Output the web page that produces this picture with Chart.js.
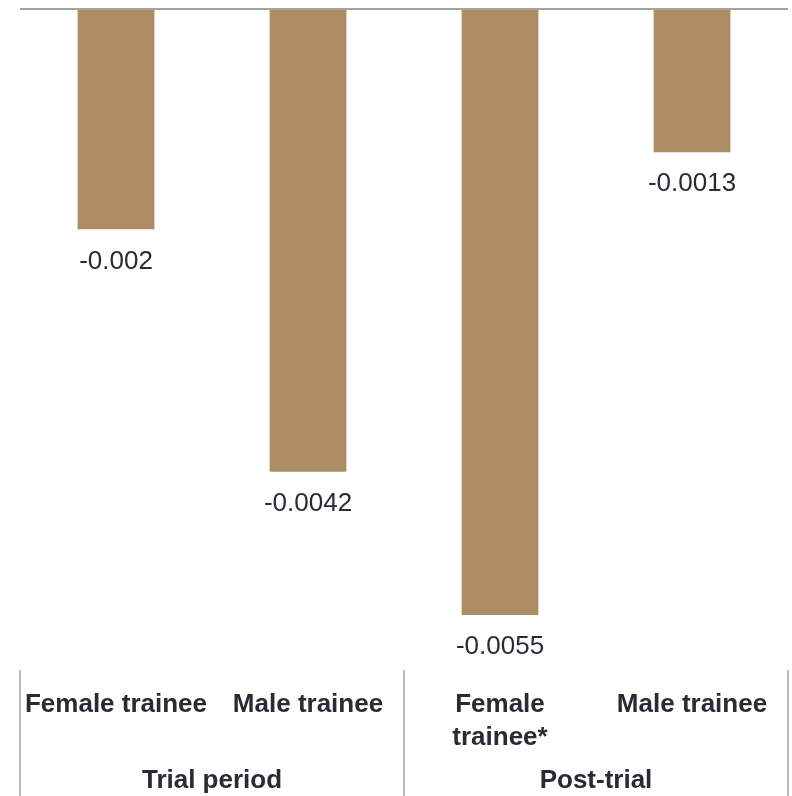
<!DOCTYPE html>
<html>
<head>
<meta charset="utf-8">
<script src="https://cdn.jsdelivr.net/npm/chart.js@4/dist/chart.umd.min.js"></script>
<style>
  html, body { margin: 0; padding: 0; background: #fff; }
  #wrap { width: 792px; height: 796px; }
</style>
</head>
<body>
<div id="wrap"><canvas id="chart"></canvas></div>
<script>
const categories = ['Female trainee', 'Male trainee', ['Female', 'trainee*'], 'Male trainee'];
const groups = ['Trial period', 'Post-trial'];
const groupSizes = [2, 2];
const values = [-0.002, -0.0042, -0.0055, -0.0013];
const valueLabels = ['-0.002', '-0.0042', '-0.0055', '-0.0013'];

const barColor = '#ac8d64';
const textColor = '#2a2a35';
const lineColor = '#a3a3a3';
const fontFamily = '"Liberation Sans", Arial, sans-serif';

const extras = {
  id: 'extras',
  afterDatasetsDraw(chart) {
    const { ctx, chartArea, scales } = chart;
    const meta = chart.getDatasetMeta(0);
    ctx.save();
    // value labels under each bar
    ctx.font = '26px ' + fontFamily;
    ctx.fillStyle = textColor;
    ctx.textAlign = 'center';
    ctx.textBaseline = 'middle';
    meta.data.forEach((bar, i) => {
      ctx.fillText(valueLabels[i], bar.x, bar.y + 32);
    });

    // group separators and group names
    const x = scales.x;
    let idx = 0;
    const edges = [chartArea.left];
    groups.forEach((g, gi) => {
      const first = idx;
      const last = idx + groupSizes[gi] - 1;
      idx += groupSizes[gi];
      const left = first === 0 ? chartArea.left : (x.getPixelForValue(first - 1) + x.getPixelForValue(first)) / 2;
      const right = last === categories.length - 1 ? chartArea.right : (x.getPixelForValue(last) + x.getPixelForValue(last + 1)) / 2;
      if (gi > 0) edges.push(left);
      ctx.font = 'bold 26px ' + fontFamily;
      ctx.fillText(g, (left + right) / 2, chartArea.bottom + 111);
    });
    edges.push(chartArea.right);
    ctx.strokeStyle = lineColor;
    ctx.lineWidth = 1.5;
    edges.forEach(ex => {
      ctx.beginPath();
      ctx.moveTo(ex, chartArea.bottom);
      ctx.lineTo(ex, chart.height);
      ctx.stroke();
    });
    ctx.restore();
  }
};

new Chart(document.getElementById('chart'), {
  type: 'bar',
  data: {
    labels: categories,
    datasets: [{
      data: values,
      backgroundColor: barColor,
      barPercentage: 0.4,
      categoryPercentage: 1,
    }],
  },
  options: {
    responsive: true,
    maintainAspectRatio: false,
    animation: false,
    layout: { padding: { left: 20, right: 4, top: 9, bottom: 0 } },
    plugins: { legend: { display: false }, tooltip: { enabled: false } },
    scales: {
      x: {
        grid: { display: false },
        border: { display: false },
        ticks: {
          color: textColor,
          font: { family: fontFamily, size: 26, weight: 'bold', lineHeight: 1.27 },
          maxRotation: 0,
          autoSkip: false,
          padding: 10,
        },
        afterFit(s) { s.height = 126; },
      },
      y: {
        min: -0.006,
        max: 0,
        ticks: { display: false },
        border: { display: false },
        grid: {
          drawTicks: false,
          lineWidth: 2,
          color: (c) => c.tick.value === 0 ? lineColor : 'transparent',
        },
        afterFit(s) { s.width = 0; },
      },
    },
  },
  plugins: [extras],
});
</script>
</body>
</html>
